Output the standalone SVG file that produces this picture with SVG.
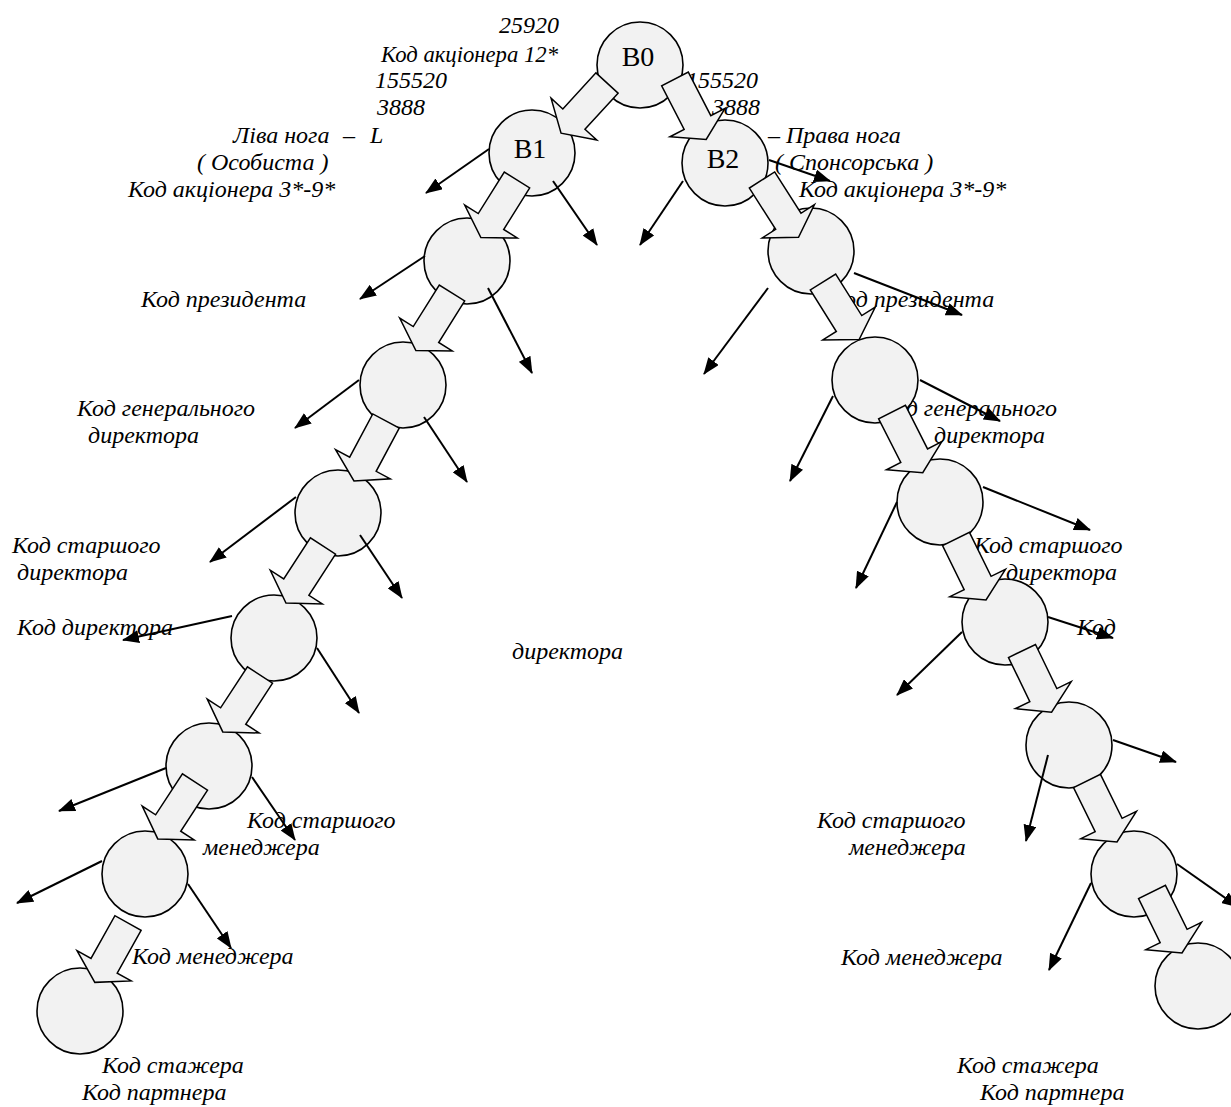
<svg xmlns="http://www.w3.org/2000/svg" xmlns:xlink="http://www.w3.org/1999/xlink" width="1231" height="1107" viewBox="0 0 1231 1107">
<style>
.t{font-family:"Liberation Serif","Times New Roman",serif;font-style:italic;font-size:24px;fill:#000}
.b{font-family:"Liberation Serif","Times New Roman",serif;font-size:28px;fill:#000;text-anchor:middle}
.n{fill:#f2f2f2;stroke:#000;stroke-width:1.6}
.ln{fill:none;stroke:#000;stroke-width:2;marker-end:url(#ah)}
.blk{fill:#f2f2f2;stroke:#000;stroke-width:1.5;stroke-linejoin:miter}
</style>
<defs>
<marker id="ah" markerUnits="userSpaceOnUse" markerWidth="17" markerHeight="13" refX="16" refY="6.5" orient="auto">
<path d="M0,0 L17,6.5 L0,13 z" fill="#000"/>
</marker>
<polygon id="bigArrow" points="0,-15 49,-15 49,-31 68,0 49,31 49,15 0,15"/>
</defs>
<rect width="1231" height="1107" fill="#fff"/>
<g id="labels">
<text class="t" x="499" y="33">25920</text>
<text class="t" x="381" y="62" textLength="177" lengthAdjust="spacingAndGlyphs">Код акціонера 12*</text>
<text class="t" x="375" y="88">155520</text>
<text class="t" x="377" y="115">3888</text>
<text class="t" x="233" y="143">Ліва нога</text>
<text class="t" x="343" y="143">–</text>
<text class="t" x="370" y="143">L</text>
<text class="t" x="197" y="170">( Особиста )</text>
<text class="t" x="128" y="197">Код акціонера 3*-9*</text>
<text class="t" x="686" y="88">155520</text>
<text class="t" x="712" y="115">3888</text>
<text class="t" x="768" y="143">–</text>
<text class="t" x="786" y="143">Права нога</text>
<text class="t" x="775" y="170">( Спонсорська )</text>
<text class="t" x="799" y="197">Код акціонера 3*-9*</text>
<text class="t" x="141" y="307">Код президента</text>
<text class="t" x="829" y="307">Код президента</text>
<text class="t" x="77" y="416">Код генерального</text>
<text class="t" x="88" y="443">директора</text>
<text class="t" x="879" y="416">Код генерального</text>
<text class="t" x="934" y="443">директора</text>
<text class="t" x="12" y="553">Код старшого</text>
<text class="t" x="17" y="580">директора</text>
<text class="t" x="974" y="553">Код старшого</text>
<text class="t" x="1006" y="580">директора</text>
<text class="t" x="17" y="635">Код директора</text>
<text class="t" x="1077" y="635">Код</text>
<text class="t" x="512" y="659">директора</text>
<text class="t" x="247" y="828">Код старшого</text>
<text class="t" x="203" y="855">менеджера</text>
<text class="t" x="817" y="828">Код старшого</text>
<text class="t" x="849" y="855">менеджера</text>
<text class="t" x="132" y="964">Код менеджера</text>
<text class="t" x="841" y="965">Код менеджера</text>
<text class="t" x="102" y="1073">Код стажера</text>
<text class="t" x="82" y="1100">Код партнера</text>
<text class="t" x="957" y="1073">Код стажера</text>
<text class="t" x="980" y="1100">Код партнера</text>
</g>
<g id="node-B0"><circle class="n" cx="640" cy="65" r="43"/><text class="b" x="638" y="66">B0</text></g>
<g id="node-B1"><circle class="n" cx="532" cy="153" r="43"/><text class="b" x="530" y="158">B1</text></g>
<g id="node-B2"><circle class="n" cx="725" cy="163" r="43"/><text class="b" x="723" y="168">B2</text></g>
<g id="node-L1"><circle class="n" cx="467" cy="261" r="43"/></g>
<g id="node-L2"><circle class="n" cx="403" cy="385" r="43"/></g>
<g id="node-L3"><circle class="n" cx="338" cy="513" r="43"/></g>
<g id="node-L4"><circle class="n" cx="274" cy="638" r="43"/></g>
<g id="node-L5"><circle class="n" cx="209" cy="766" r="43"/></g>
<g id="node-L6"><circle class="n" cx="145" cy="874" r="43"/></g>
<g id="node-L7"><circle class="n" cx="80" cy="1011" r="43"/></g>
<g id="node-R1"><circle class="n" cx="811" cy="251" r="43"/></g>
<g id="node-R2"><circle class="n" cx="875" cy="380" r="43"/></g>
<g id="node-R3"><circle class="n" cx="940" cy="502" r="43"/></g>
<g id="node-R4"><circle class="n" cx="1005" cy="622" r="43"/></g>
<g id="node-R5"><circle class="n" cx="1069" cy="745" r="43"/></g>
<g id="node-R6"><circle class="n" cx="1134" cy="874" r="43"/></g>
<g id="node-R7"><circle class="n" cx="1198" cy="986" r="43"/></g>
<g id="connectors">
<use class="blk" xlink:href="#bigArrow" href="#bigArrow" transform="translate(607,83) rotate(132.5)"/>
<use class="blk" xlink:href="#bigArrow" href="#bigArrow" transform="translate(675,79) rotate(62.7)"/>
<use class="blk" xlink:href="#bigArrow" href="#bigArrow" transform="translate(517,180) rotate(122.1)"/>
<use class="blk" xlink:href="#bigArrow" href="#bigArrow" transform="translate(452,293) rotate(122.1)"/>
<use class="blk" xlink:href="#bigArrow" href="#bigArrow" transform="translate(386,421) rotate(118.1)"/>
<use class="blk" xlink:href="#bigArrow" href="#bigArrow" transform="translate(323,546) rotate(123)"/>
<use class="blk" xlink:href="#bigArrow" href="#bigArrow" transform="translate(260,675) rotate(123.2)"/>
<use class="blk" xlink:href="#bigArrow" href="#bigArrow" transform="translate(195,782) rotate(123.2)"/>
<use class="blk" xlink:href="#bigArrow" href="#bigArrow" transform="translate(128,923) rotate(119.2)"/>
<use class="blk" xlink:href="#bigArrow" href="#bigArrow" transform="translate(762,180) rotate(57.5)"/>
<use class="blk" xlink:href="#bigArrow" href="#bigArrow" transform="translate(823,282) rotate(57.9)"/>
<use class="blk" xlink:href="#bigArrow" href="#bigArrow" transform="translate(892,412) rotate(63.1)"/>
<use class="blk" xlink:href="#bigArrow" href="#bigArrow" transform="translate(956,539) rotate(63.8)"/>
<use class="blk" xlink:href="#bigArrow" href="#bigArrow" transform="translate(1022,651) rotate(64.2)"/>
<use class="blk" xlink:href="#bigArrow" href="#bigArrow" transform="translate(1087,781) rotate(63.8)"/>
<use class="blk" xlink:href="#bigArrow" href="#bigArrow" transform="translate(1152,892) rotate(63.8)"/>
<line class="ln" x1="489" y1="149" x2="426" y2="193"/>
<line class="ln" x1="553" y1="181" x2="597" y2="245"/>
<line class="ln" x1="683" y1="181" x2="640" y2="245"/>
<line class="ln" x1="769" y1="160" x2="830" y2="181"/>
<line class="ln" x1="425" y1="256" x2="360" y2="299"/>
<line class="ln" x1="488" y1="288" x2="532" y2="373"/>
<line class="ln" x1="359" y1="380" x2="295" y2="428"/>
<line class="ln" x1="424" y1="417" x2="467" y2="482"/>
<line class="ln" x1="296" y1="497" x2="210" y2="562"/>
<line class="ln" x1="360" y1="535" x2="402" y2="598"/>
<line class="ln" x1="232" y1="616" x2="123" y2="640"/>
<line class="ln" x1="317" y1="648" x2="359" y2="713"/>
<line class="ln" x1="166" y1="768" x2="59" y2="811"/>
<line class="ln" x1="252" y1="777" x2="295" y2="840"/>
<line class="ln" x1="102" y1="861" x2="17" y2="903"/>
<line class="ln" x1="188" y1="884" x2="231" y2="948"/>
<line class="ln" x1="768" y1="288" x2="704" y2="374"/>
<line class="ln" x1="854" y1="273" x2="962" y2="315"/>
<line class="ln" x1="833" y1="396" x2="790" y2="481"/>
<line class="ln" x1="920" y1="380" x2="1000" y2="421"/>
<line class="ln" x1="897" y1="502" x2="856" y2="588"/>
<line class="ln" x1="983" y1="487" x2="1090" y2="530"/>
<line class="ln" x1="962" y1="632" x2="897" y2="695"/>
<line class="ln" x1="1048" y1="617" x2="1113" y2="638"/>
<line class="ln" x1="1048" y1="755" x2="1026" y2="841"/>
<line class="ln" x1="1113" y1="740" x2="1176" y2="762"/>
<line class="ln" x1="1091" y1="883" x2="1049" y2="970"/>
<line class="ln" x1="1177" y1="864" x2="1238" y2="907"/>
</g>
</svg>
